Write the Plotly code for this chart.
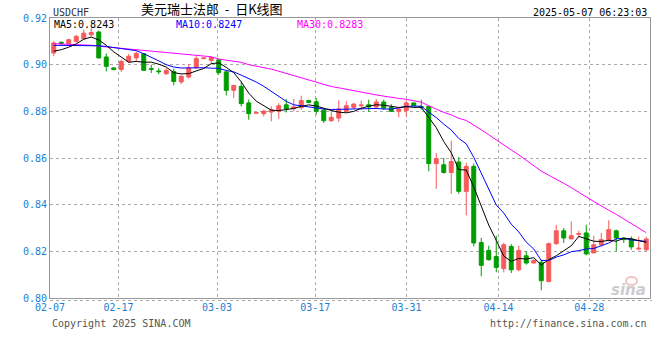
import plotly.graph_objects as go

# ---- data ----
opens = [0.9050, 0.9096, 0.9090, 0.9100, 0.9111, 0.9128, 0.9140, 0.9033, 0.8986, 0.8979,
         0.9014, 0.9029, 0.9047, 0.8983, 0.8973, 0.8961, 0.8971, 0.8926, 0.8947, 0.8987,
         0.9026, 0.9018, 0.9021, 0.8969, 0.8890, 0.8907, 0.8836, 0.8792, 0.8790, 0.8797,
         0.8800, 0.8828, 0.8811, 0.8816, 0.8846, 0.8841, 0.8805, 0.8760, 0.8771, 0.8800,
         0.8817, 0.8824, 0.8828, 0.8819, 0.8840, 0.8817, 0.8800, 0.8803, 0.8836, 0.8821,
         0.8821, 0.8576, 0.8571, 0.8538, 0.8583, 0.8457, 0.8564, 0.8238, 0.8204, 0.8178,
         0.8126, 0.8221, 0.8121, 0.8181, 0.8150, 0.8153, 0.8071, 0.8233, 0.8288, 0.8253,
         0.8273, 0.8279, 0.8193, 0.8228, 0.8246, 0.8288, 0.8257, 0.8253, 0.8210, 0.8207]
highs = [0.9100, 0.9100, 0.9111, 0.9128, 0.9150, 0.9157, 0.9146, 0.9048, 0.8990, 0.9021,
         0.9046, 0.9057, 0.9050, 0.9000, 0.8985, 0.8985, 0.8983, 0.8957, 0.9003, 0.9038,
         0.9030, 0.9034, 0.9026, 0.8974, 0.8914, 0.8927, 0.8850, 0.8795, 0.8807, 0.8821,
         0.8835, 0.8853, 0.8854, 0.8867, 0.8850, 0.8857, 0.8814, 0.8807, 0.8847, 0.8843,
         0.8836, 0.8846, 0.8850, 0.8853, 0.8850, 0.8831, 0.8816, 0.8847, 0.8838, 0.8850,
         0.8824, 0.8621, 0.8600, 0.8674, 0.8604, 0.8579, 0.8576, 0.8258, 0.8224, 0.8267,
         0.8237, 0.8231, 0.8224, 0.8200, 0.8166, 0.8164, 0.8238, 0.8314, 0.8300, 0.8328,
         0.8288, 0.8314, 0.8267, 0.8279, 0.8333, 0.8293, 0.8261, 0.8264, 0.8263, 0.8263]
lows = [0.9036, 0.9086, 0.9086, 0.9094, 0.9107, 0.9121, 0.9026, 0.8971, 0.8976, 0.8969,
        0.9007, 0.9014, 0.8974, 0.8964, 0.8959, 0.8957, 0.8911, 0.8917, 0.8940, 0.8983,
        0.9024, 0.9004, 0.8957, 0.8868, 0.8857, 0.8821, 0.8764, 0.8791, 0.8778, 0.8757,
        0.8768, 0.8795, 0.8800, 0.8807, 0.8835, 0.8786, 0.8750, 0.8754, 0.8754, 0.8795,
        0.8810, 0.8807, 0.8797, 0.8810, 0.8807, 0.8797, 0.8774, 0.8778, 0.8822, 0.8807,
        0.8543, 0.8468, 0.8533, 0.8446, 0.8447, 0.8354, 0.8221, 0.8093, 0.8160, 0.8110,
        0.8110, 0.8107, 0.8114, 0.8143, 0.8148, 0.8033, 0.8066, 0.8228, 0.8236, 0.8253,
        0.8260, 0.8183, 0.8192, 0.8221, 0.8243, 0.8200, 0.8236, 0.8207, 0.8204, 0.8200]
closes = [0.9093, 0.9090, 0.9107, 0.9121, 0.9135, 0.9138, 0.9029, 0.8993, 0.8979, 0.9014,
          0.9036, 0.9048, 0.8976, 0.8980, 0.8970, 0.8975, 0.8928, 0.8950, 0.8986, 0.9026,
          0.9029, 0.9031, 0.8966, 0.8890, 0.8911, 0.8833, 0.8790, 0.8794, 0.8801, 0.8807,
          0.8824, 0.8811, 0.8819, 0.8846, 0.8838, 0.8800, 0.8760, 0.8774, 0.8810, 0.8824,
          0.8831, 0.8827, 0.8819, 0.8840, 0.8814, 0.8800, 0.8810, 0.8836, 0.8824, 0.8817,
          0.8576, 0.8597, 0.8538, 0.8585, 0.8457, 0.8564, 0.8236, 0.8140, 0.8164, 0.8131,
          0.8228, 0.8121, 0.8204, 0.8150, 0.8161, 0.8074, 0.8233, 0.8288, 0.8257, 0.8267,
          0.8276, 0.8189, 0.8228, 0.8250, 0.8293, 0.8257, 0.8250, 0.8219, 0.8213, 0.8253]

# moving-average values at the start of the window (they depend on days before it)
ma5_head = [0.9058, 0.9064, 0.9075, 0.9089]
ma10_head = [0.9083, 0.9083, 0.9083, 0.9083, 0.9083, 0.9083, 0.9081, 0.9078, 0.9073]
ma30_head = [0.9090, 0.9089, 0.9088, 0.9087, 0.9086, 0.9083, 0.9079, 0.9076, 0.9073, 0.9070,
             0.9066, 0.9063, 0.9059, 0.9056, 0.9053, 0.9050, 0.9047, 0.9045, 0.9043, 0.9040,
             0.9037, 0.9034, 0.9024, 0.9019, 0.9013, 0.9010, 0.9000, 0.8994, 0.8985]

tick_labels = ["02-07", "02-17", "03-03", "03-17", "03-31", "04-14", "04-28"]
tick_pos = [-0.499, 8.63, 21.77, 34.87, 47.03, 59.3, 71.4]
y_ticks = [0.80, 0.82, 0.84, 0.86, 0.88, 0.90, 0.92]

legend_texts = ["MA5:0.8243", "MA10:0.8247", "MA30:0.8283"]
title_text = "美元瑞士法郎\u00a0\u00a0-\u00a0\u00a0日K线图"
symbol = "USDCHF"
stamp = "2025-05-07 06:23:03"

# ---- derived ----
n = len(closes)
idx = list(range(n))


def moving_avg(head, w):
    out = list(head)
    for i in range(len(head), n):
        out.append(sum(closes[i - w + 1:i + 1]) / w)
    return out


ma5 = moving_avg(ma5_head, 5)
ma10 = moving_avg(ma10_head, 10)
ma30 = moving_avg(ma30_head, 30)

RED = "#f65a5a"
GREEN = "#009d00"
BLUE_TXT = "#1a7fd4"
MONO = "DejaVu Sans Mono"

fig = go.Figure()
fig.add_trace(go.Candlestick(
    x=idx, open=opens, high=highs, low=lows, close=closes,
    increasing=dict(line=dict(color=RED, width=1), fillcolor=RED),
    decreasing=dict(line=dict(color=GREEN, width=1), fillcolor=GREEN),
    whiskerwidth=0, hoverinfo="skip", showlegend=False))
fig.add_trace(go.Scatter(x=idx, y=ma30, mode="lines", line=dict(color="#ff00ff", width=1),
                         hoverinfo="skip", showlegend=False))
fig.add_trace(go.Scatter(x=idx, y=ma10, mode="lines", line=dict(color="#0000ff", width=1),
                         hoverinfo="skip", showlegend=False))
fig.add_trace(go.Scatter(x=idx, y=ma5, mode="lines", line=dict(color="#000000", width=1),
                         hoverinfo="skip", showlegend=False))

L, R, T, B = 50, 10, 18, 62
W, H = 660, 360
PW, PH = W - L - R, H - T - B


def px(x):
    return (x - L) / PW


def py(y):
    return (H - B - y) / PH


def note(x, y, text, anchor, size, color, family=MONO):
    return dict(x=px(x), y=py(y), xref="paper", yref="paper", text=text, showarrow=False,
                xanchor=anchor, yanchor="middle", font=dict(family=family, size=size, color=color))


anns = [
    note(212, 9, title_text, "center", 13, "#000", "Noto Sans CJK SC"),
    note(51, 12, symbol, "left", 10, "#333"),
    note(649, 12, stamp, "right", 10, "#000"),
    note(52, 24, legend_texts[0], "left", 10, "#000"),
    note(174, 24, legend_texts[1], "left", 10, "#0000ff"),
    note(295, 24, legend_texts[2], "left", 10, "#ff00ff"),
    note(50, 323, "Copyright 2025 SINA.COM", "left", 10, "#555"),
    note(649, 323, "http://finance.sina.com.cn", "right", 10, "#555"),
    note(648, 290, "<b><i>sina</i></b>", "right", 15, "#cccccc", "DejaVu Sans"),
]

shapes = [
    dict(type="line", xref="paper", yref="paper", x0=0, x1=px(652), y0=py(300.5), y1=py(300.5),
         line=dict(color="#aaaaaa", width=1, dash="dot")),
    dict(type="circle", xref="paper", yref="paper", x0=px(626), x1=px(637), y0=py(285), y1=py(277),
         line=dict(color="#f0c4c4", width=2)),
]

fig.update_layout(
    width=W, height=H,
    margin=dict(l=L, r=R, t=T, b=B),
    paper_bgcolor="white", plot_bgcolor="white",
    hovermode=False,
    annotations=anns, shapes=shapes,
    xaxis=dict(range=[-0.5, n - 0.5], rangeslider=dict(visible=False),
               tickmode="array", tickvals=tick_pos, ticktext=tick_labels,
               showgrid=True, gridcolor="#aaaaaa", griddash="dot", gridwidth=1,
               zeroline=False, showline=True, mirror=True, linecolor="#999999", linewidth=1,
               ticks="", tickfont=dict(family=MONO, size=10, color=BLUE_TXT)),
    yaxis=dict(range=[0.80, 0.92], tickmode="array", tickvals=y_ticks,
               ticktext=[f"{v:.2f}" for v in y_ticks],
               showgrid=True, gridcolor="#aaaaaa", griddash="dot", gridwidth=1,
               zeroline=False, showline=True, mirror=True, linecolor="#999999", linewidth=1,
               ticks="", tickfont=dict(family=MONO, size=10, color=BLUE_TXT)),
    boxgap=0.25,
)

fig.write_html("out.html", config={"displayModeBar": False})
